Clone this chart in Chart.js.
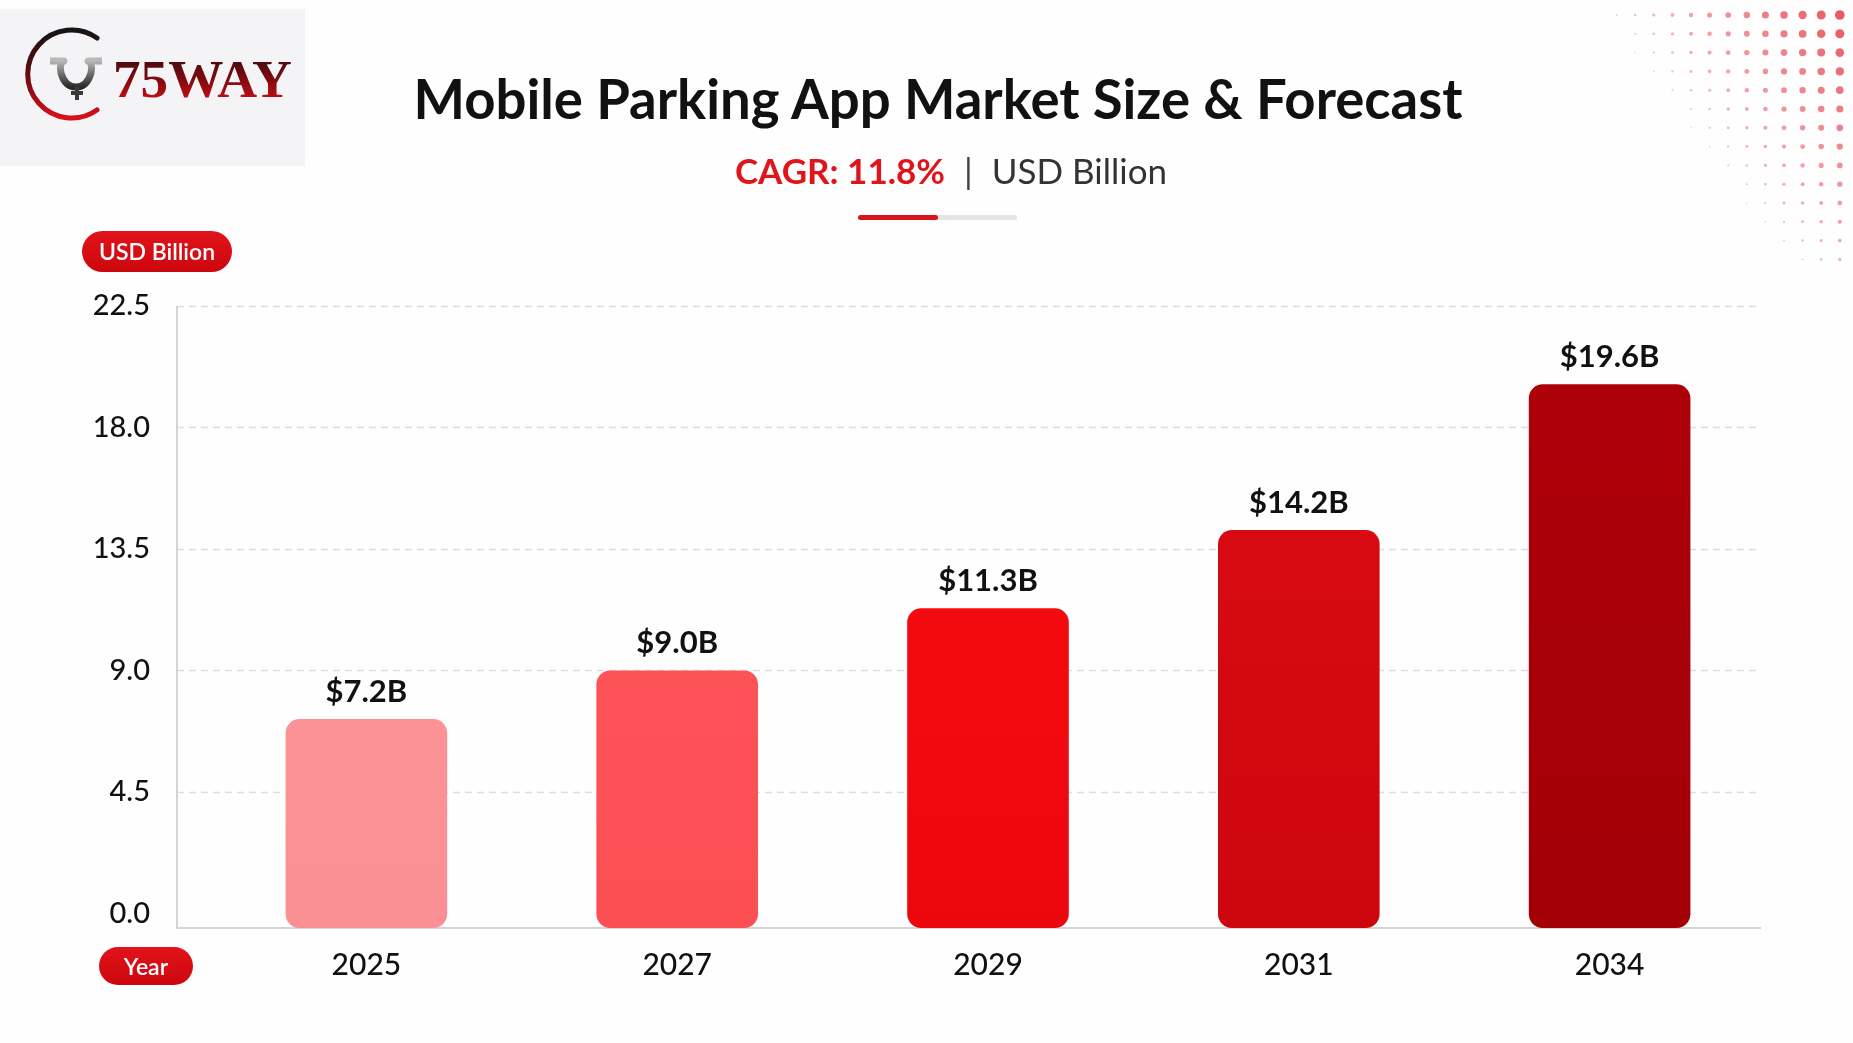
<!DOCTYPE html>
<html>
<head>
<meta charset="utf-8">
<title>Mobile Parking App Market Size & Forecast</title>
<script src="https://cdn.jsdelivr.net/npm/chart.js@4.4.1/dist/chart.umd.min.js"></script>
<style>
  html, body { margin: 0; padding: 0; background: #fefefe; }
  #page { position: relative; width: 1853px; height: 1043px; overflow: hidden; font-family: 'Lato', 'Noto Sans', sans-serif; }
  #chartBox { position: absolute; left: 0; top: 0; width: 1853px; height: 1043px; }
  #dots { position: absolute; left: 1580px; top: 0; }
  #logo { position: absolute; left: 0; top: 9px; width: 305px; height: 157px; background: #f4f4f6; }
  #title { position: absolute; left: 938px; top: 68px; transform: translateX(-50%); white-space: nowrap;
           font-size: 54.5px; font-weight: 700; color: #111; line-height: 60px; }
  #subtitle { position: absolute; left: 951px; top: 150px; transform: translateX(-50%); white-space: nowrap;
              font-size: 35px; line-height: 40px; color: #333; }
  #subtitle .cagr { color: #e0141b; font-weight: 700; }
  #subtitle .sep { color: #444; margin: 0 19px; }
  #rule { position: absolute; left: 858px; top: 215px; width: 159px; height: 5px; border-radius: 3px; background: #e4e4e4; }
  #rule span { display: block; width: 80px; height: 5px; border-radius: 3px; background: #d8141a; }
  .pill { position: absolute; color: #fff; background: linear-gradient(180deg, #e2131a, #cc070e);
          font-weight: 600; font-size: 23px; text-align: center; }
  #yPill { left: 82px; top: 231px; width: 150px; height: 41px; line-height: 41px; border-radius: 21px; }
  #xPill { left: 99px; top: 947px; width: 94px; height: 38px; line-height: 38px; border-radius: 19px; }
</style>
</head>
<body>
<div id="page">
  <div id="chartBox"><canvas id="barChart"></canvas></div>
  <canvas id="dots" width="273" height="280"></canvas>

  <div id="logo">
    <svg width="305" height="157" viewBox="0 0 305 157">
      <defs>
        <linearGradient id="arcGrad" x1="0" y1="0" x2="0" y2="1">
          <stop offset="0" stop-color="#151515"/>
          <stop offset="0.45" stop-color="#5a0a0e"/>
          <stop offset="1" stop-color="#d8101a"/>
        </linearGradient>
        <linearGradient id="metal" x1="0" y1="0" x2="0" y2="1">
          <stop offset="0" stop-color="#b8b8b8"/>
          <stop offset="0.5" stop-color="#6e6e6e"/>
          <stop offset="1" stop-color="#2a2a2a"/>
        </linearGradient>
        <linearGradient id="wordGrad" x1="0" y1="0" x2="0" y2="1">
          <stop offset="0" stop-color="#2a0c0e"/>
          <stop offset="0.55" stop-color="#8a0a10"/>
          <stop offset="1" stop-color="#e0121c"/>
        </linearGradient>
      </defs>
      <path d="M97 29 A44 44 0 1 0 97 101" fill="none" stroke="url(#arcGrad)" stroke-width="5" stroke-linecap="round"/>
      <path d="M50 52 h14 q-5 2 -3 12 q4 14 15 14 q11 0 15 -14 q2 -10 -3 -12 h14"
            fill="none" stroke="url(#metal)" stroke-width="7" stroke-linejoin="round"/>
      <path d="M77 78 v13 M71 84 h12" stroke="#3a3a3a" stroke-width="4"/>
      <text x="113" y="88" textLength="179" lengthAdjust="spacingAndGlyphs"
            font-family="Liberation Serif, DejaVu Serif, serif" font-weight="700" font-size="52"
            fill="url(#wordGrad)">75WAY</text>
    </svg>
  </div>

  <div id="title">Mobile Parking App Market Size &amp; Forecast</div>
  <div id="subtitle"><span class="cagr">CAGR: 11.8%</span><span class="sep">|</span>USD Billion</div>
  <div id="rule"><span></span></div>

  <div class="pill" id="yPill">USD Billion</div>
  <div class="pill" id="xPill">Year</div>
</div>

<script>
// chart data
var years = ['2025', '2027', '2029', '2031', '2034'];
var marketSize = [7.2, 9.0, 11.3, 14.2, 19.6];   // USD billion
var yTicks = [0, 4.5, 9.0, 13.5, 18.0, 22.5];

// bar colours, light to dark (top / bottom of each bar)
var barTop = ['#fd989a', '#ff595d', '#fb0e13', '#de0d14', '#ae000a'];
var barBottom = ['#fa9093', '#fb4f54', '#ec070c', '#cd060d', '#a30008'];

var yMin = -0.54;   // axis line sits a little below the 0.0 tick

document.addEventListener('DOMContentLoaded', function () {
    drawDots();
    renderBarChart();

    function drawDots() {
        // decorative dot pattern in the top right corner
        var c = document.getElementById('dots').getContext('2d');
        var cols = 14, rows = 14;
        for (var r = 0; r < rows; r++) {
            for (var k = 0; k < cols; k++) {
                var u = k / (cols - 1), v = r / (rows - 1);
                var s = Math.min(1, Math.max(0, u - 0.75 * v));
                if (s <= 0.02) continue;
                c.beginPath();
                c.arc(18 + k * 18.6, 15 + r * 18.8, 0.6 + 4.2 * s, 0, Math.PI * 2);
                c.fillStyle = 'rgba(228, 62, 74, ' + (0.25 + 0.6 * s).toFixed(2) + ')';
                c.fill();
            }
        }
    }

    function renderBarChart() {
        var gridPlugin = {
            id: 'gridPlugin',
            beforeDatasetsDraw: function (chart) {
                var ctx = chart.ctx, area = chart.chartArea, y = chart.scales.y;
                var x0 = area.left - 34;
                ctx.save();
                ctx.strokeStyle = '#dedede';
                ctx.lineWidth = 1.5;
                ctx.setLineDash([7, 5]);
                yTicks.forEach(function (t) {
                    if (t === 0) return;
                    var py = Math.round(y.getPixelForValue(t)) + 0.5;
                    ctx.beginPath();
                    ctx.moveTo(x0, py);
                    ctx.lineTo(area.right - 4, py);
                    ctx.stroke();
                });
                ctx.setLineDash([]);
                ctx.strokeStyle = '#d4d4d4';
                ctx.lineWidth = 2;
                ctx.beginPath();
                ctx.moveTo(x0, area.top);
                ctx.lineTo(x0, area.bottom);
                ctx.lineTo(area.right - 4, area.bottom);
                ctx.stroke();
                ctx.restore();
            }
        };

        var valueLabels = {
            id: 'valueLabels',
            afterDatasetsDraw: function (chart) {
                var ctx = chart.ctx;
                var meta = chart.getDatasetMeta(0);
                ctx.save();
                ctx.font = '700 31px Lato, "Noto Sans", sans-serif';
                ctx.fillStyle = '#111';
                ctx.textAlign = 'center';
                ctx.textBaseline = 'middle';
                meta.data.forEach(function (bar, i) {
                    ctx.fillText('$' + marketSize[i].toFixed(1) + 'B', bar.x, bar.y - 27);
                });
                ctx.restore();
            }
        };

        var ctx = document.getElementById('barChart').getContext('2d');
        var chart = new Chart(ctx, {
            type: 'bar',
            data: {
                labels: years,
                datasets: [{
                    label: 'Market Size (USD Billion)',
                    data: marketSize,
                    base: yMin,
                    backgroundColor: function (c) {
                        var area = c.chart.chartArea;
                        if (!area) return barTop[c.dataIndex];
                        var g = c.chart.ctx.createLinearGradient(0, area.top, 0, area.bottom);
                        g.addColorStop(0, barTop[c.dataIndex]);
                        g.addColorStop(1, barBottom[c.dataIndex]);
                        return g;
                    },
                    borderWidth: 0,
                    borderRadius: 14,
                    borderSkipped: false,
                    barPercentage: 0.65,
                    categoryPercentage: 0.8
                }]
            },
            options: {
                responsive: true,
                maintainAspectRatio: false,
                animation: false,
                layout: { padding: { top: 306, right: 88, bottom: 0, left: 0 } },
                plugins: {
                    legend: { display: false },
                    tooltip: { enabled: false }
                },
                scales: {
                    x: {
                        afterFit: function (s) { s.height = 115; },
                        grid: { display: false, drawTicks: false },
                        border: { display: false },
                        ticks: {
                            padding: 19,
                            color: '#111',
                            font: { family: 'Lato', size: 30, weight: '500' }
                        }
                    },
                    y: {
                        min: yMin,
                        max: 22.5,
                        afterBuildTicks: function (s) {
                            s.ticks = yTicks.map(function (v) { return { value: v }; });
                        },
                        afterFit: function (s) { s.width = 211; },
                        grid: { display: false, drawTicks: false },
                        border: { display: false },
                        ticks: {
                            padding: 61,
                            color: '#111',
                            font: { family: 'Lato', size: 29, weight: '500' },
                            callback: function (v) { return Number(v).toFixed(1); }
                        }
                    }
                }
            },
            plugins: [gridPlugin, valueLabels]
        });
    }
});
</script>
</body>
</html>
